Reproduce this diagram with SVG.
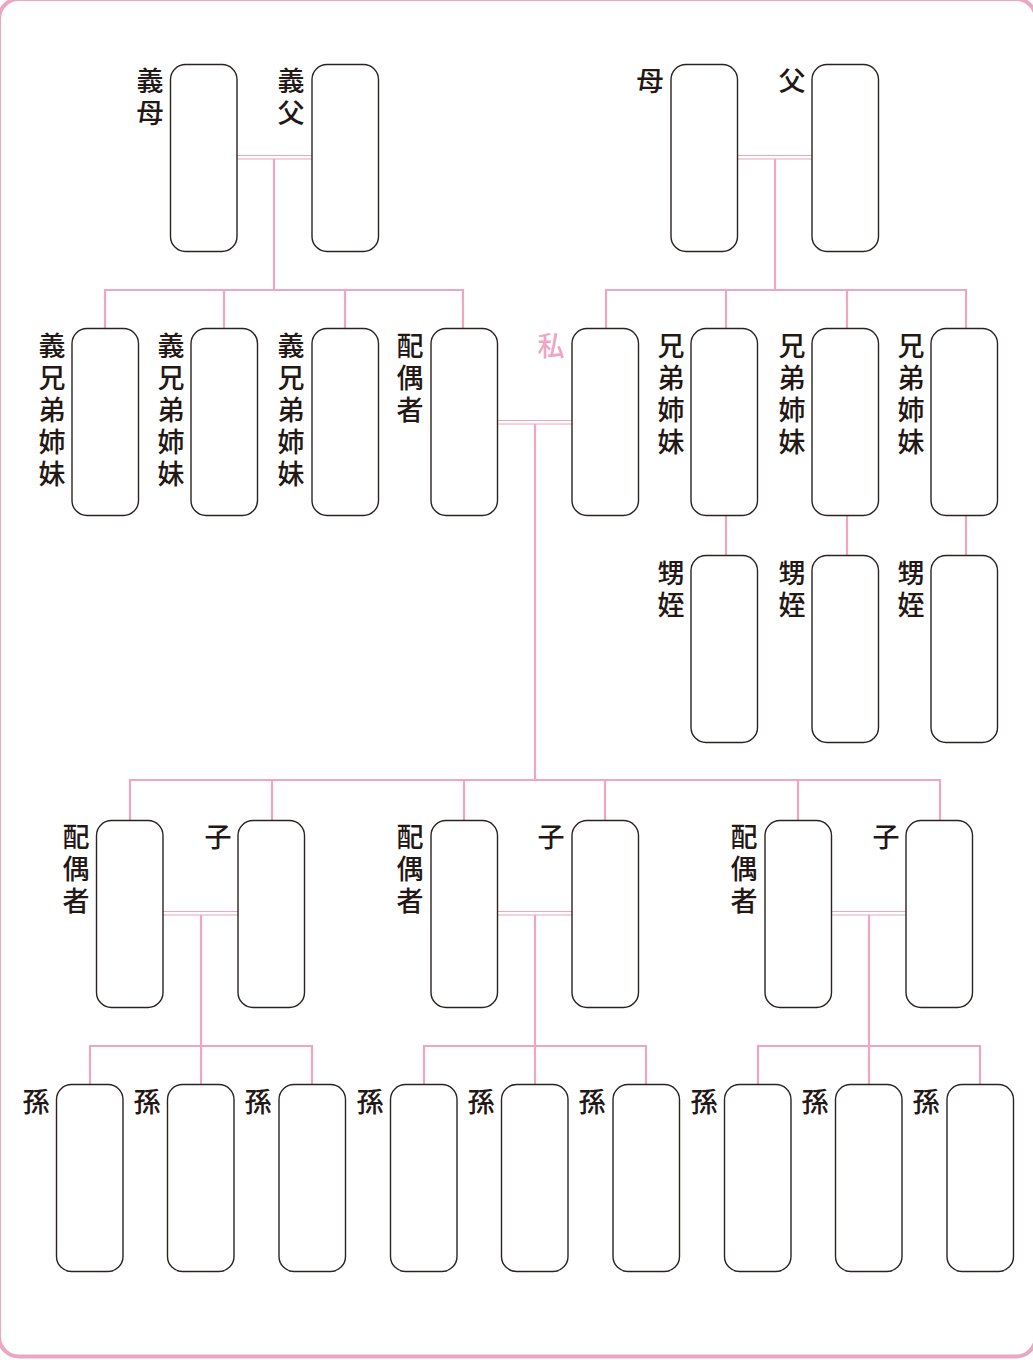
<svg xmlns="http://www.w3.org/2000/svg" width="1033" height="1360" viewBox="0 0 1033 1360">
<style>
.b{fill:#fff;stroke:#2a2421;stroke-width:1.4}
.c{fill:none;stroke:#eea6c2;stroke-width:2.2}
.d{fill:none;stroke:#eea6c2;stroke-width:1.2}
.t{font-family:"Noto Sans CJK JP","Noto Sans CJK SC",sans-serif;font-size:27px;font-weight:500;fill:#231815;text-anchor:middle;dominant-baseline:central}
.p{fill:#eea6c2}
</style>
<rect x="-1" y="-1" width="1037" height="1357.5" rx="20" fill="#fff" stroke="#eaa7c1" stroke-width="4"/>
<g id="connectors">
<path class="d" d="M237 155.5H312M237 159H312M737 155.5H812M737 159H812M497 420.5H572M497 424H572M163 911.5H238M163 915H238M497 911.5H572M497 915H572M831 911.5H906M831 915H906"/>
<path class="c" d="M274 159V290M105 328V290H463V328M224 290V328M345 290V328M775 159V290M606 328V290H966V328M726 290V328M847 290V328M726 516V555M847 516V555M966 516V555M535 424V780M130 820V780H940V820M272 780V820M464 780V820M605 780V820M798 780V820M201 915V1046M535 915V1046M869 915V1046M90 1084V1046H312V1084M201 1046V1084M424 1084V1046H646V1084M535 1046V1084M758 1084V1046H980V1084M869 1046V1084"/>
</g>
<g id="n-gibo"><rect class="b" x="170.5" y="64.5" width="66.5" height="187" rx="15"/><text class="t" x="150" y="79">義</text><text class="t" x="150" y="111">母</text></g>
<g id="n-gifu"><rect class="b" x="312" y="64.5" width="66.5" height="187" rx="15"/><text class="t" x="291" y="79">義</text><text class="t" x="291" y="111">父</text></g>
<g id="n-haha"><rect class="b" x="671" y="64.5" width="66.5" height="187" rx="15"/><text class="t" x="650" y="79">母</text></g>
<g id="n-chichi"><rect class="b" x="812" y="64.5" width="66.5" height="187" rx="15"/><text class="t" x="792" y="79">父</text></g>

<g id="n-gikyodai1"><rect class="b" x="72" y="328.5" width="66.5" height="187" rx="15"/><text class="t" x="52" y="344">義</text><text class="t" x="52" y="376">兄</text><text class="t" x="52" y="408">弟</text><text class="t" x="52" y="440">姉</text><text class="t" x="52" y="472">妹</text></g>
<g id="n-gikyodai2"><rect class="b" x="191" y="328.5" width="66.5" height="187" rx="15"/><text class="t" x="171" y="344">義</text><text class="t" x="171" y="376">兄</text><text class="t" x="171" y="408">弟</text><text class="t" x="171" y="440">姉</text><text class="t" x="171" y="472">妹</text></g>
<g id="n-gikyodai3"><rect class="b" x="312" y="328.5" width="66.5" height="187" rx="15"/><text class="t" x="291" y="344">義</text><text class="t" x="291" y="376">兄</text><text class="t" x="291" y="408">弟</text><text class="t" x="291" y="440">姉</text><text class="t" x="291" y="472">妹</text></g>
<g id="n-haigusha"><rect class="b" x="431" y="328.5" width="66.5" height="187" rx="15"/><text class="t" x="410" y="344">配</text><text class="t" x="410" y="376">偶</text><text class="t" x="410" y="408">者</text></g>
<g id="n-watashi"><rect class="b" x="572" y="328.5" width="66.5" height="187" rx="15"/><text class="t p" x="551" y="344">私</text></g>
<g id="n-kyodai1"><rect class="b" x="691" y="328.5" width="66.5" height="187" rx="15"/><text class="t" x="671" y="344">兄</text><text class="t" x="671" y="376">弟</text><text class="t" x="671" y="408">姉</text><text class="t" x="671" y="440">妹</text></g>
<g id="n-kyodai2"><rect class="b" x="812" y="328.5" width="66.5" height="187" rx="15"/><text class="t" x="792" y="344">兄</text><text class="t" x="792" y="376">弟</text><text class="t" x="792" y="408">姉</text><text class="t" x="792" y="440">妹</text></g>
<g id="n-kyodai3"><rect class="b" x="931" y="328.5" width="66.5" height="187" rx="15"/><text class="t" x="911" y="344">兄</text><text class="t" x="911" y="376">弟</text><text class="t" x="911" y="408">姉</text><text class="t" x="911" y="440">妹</text></g>

<g id="n-oimei1"><rect class="b" x="691" y="555.5" width="66.5" height="187" rx="15"/><text class="t" x="671" y="571">甥</text><text class="t" x="671" y="603">姪</text></g>
<g id="n-oimei2"><rect class="b" x="812" y="555.5" width="66.5" height="187" rx="15"/><text class="t" x="792" y="571">甥</text><text class="t" x="792" y="603">姪</text></g>
<g id="n-oimei3"><rect class="b" x="931" y="555.5" width="66.5" height="187" rx="15"/><text class="t" x="911" y="571">甥</text><text class="t" x="911" y="603">姪</text></g>

<g id="n-ko-haigusha1"><rect class="b" x="96.5" y="820.5" width="66.5" height="187" rx="15"/><text class="t" x="76" y="835">配</text><text class="t" x="76" y="867">偶</text><text class="t" x="76" y="899">者</text></g>
<g id="n-ko1"><rect class="b" x="238" y="820.5" width="66.5" height="187" rx="15"/><text class="t" x="218" y="835">子</text></g>
<g id="n-ko-haigusha2"><rect class="b" x="431" y="820.5" width="66.5" height="187" rx="15"/><text class="t" x="410" y="835">配</text><text class="t" x="410" y="867">偶</text><text class="t" x="410" y="899">者</text></g>
<g id="n-ko2"><rect class="b" x="572" y="820.5" width="66.5" height="187" rx="15"/><text class="t" x="551" y="835">子</text></g>
<g id="n-ko-haigusha3"><rect class="b" x="765" y="820.5" width="66.5" height="187" rx="15"/><text class="t" x="744" y="835">配</text><text class="t" x="744" y="867">偶</text><text class="t" x="744" y="899">者</text></g>
<g id="n-ko3"><rect class="b" x="906" y="820.5" width="66.5" height="187" rx="15"/><text class="t" x="886" y="835">子</text></g>

<g id="n-mago1"><rect class="b" x="56.5" y="1084.5" width="66.5" height="187" rx="15"/><text class="t" x="36" y="1100">孫</text></g>
<g id="n-mago2"><rect class="b" x="167.5" y="1084.5" width="66.5" height="187" rx="15"/><text class="t" x="147" y="1100">孫</text></g>
<g id="n-mago3"><rect class="b" x="279" y="1084.5" width="66.5" height="187" rx="15"/><text class="t" x="258" y="1100">孫</text></g>
<g id="n-mago4"><rect class="b" x="390.5" y="1084.5" width="66.5" height="187" rx="15"/><text class="t" x="370" y="1100">孫</text></g>
<g id="n-mago5"><rect class="b" x="501.5" y="1084.5" width="66.5" height="187" rx="15"/><text class="t" x="481" y="1100">孫</text></g>
<g id="n-mago6"><rect class="b" x="613" y="1084.5" width="66.5" height="187" rx="15"/><text class="t" x="592" y="1100">孫</text></g>
<g id="n-mago7"><rect class="b" x="724.5" y="1084.5" width="66.5" height="187" rx="15"/><text class="t" x="704" y="1100">孫</text></g>
<g id="n-mago8"><rect class="b" x="835.5" y="1084.5" width="66.5" height="187" rx="15"/><text class="t" x="815" y="1100">孫</text></g>
<g id="n-mago9"><rect class="b" x="947" y="1084.5" width="66.5" height="187" rx="15"/><text class="t" x="926" y="1100">孫</text></g>
</svg>
